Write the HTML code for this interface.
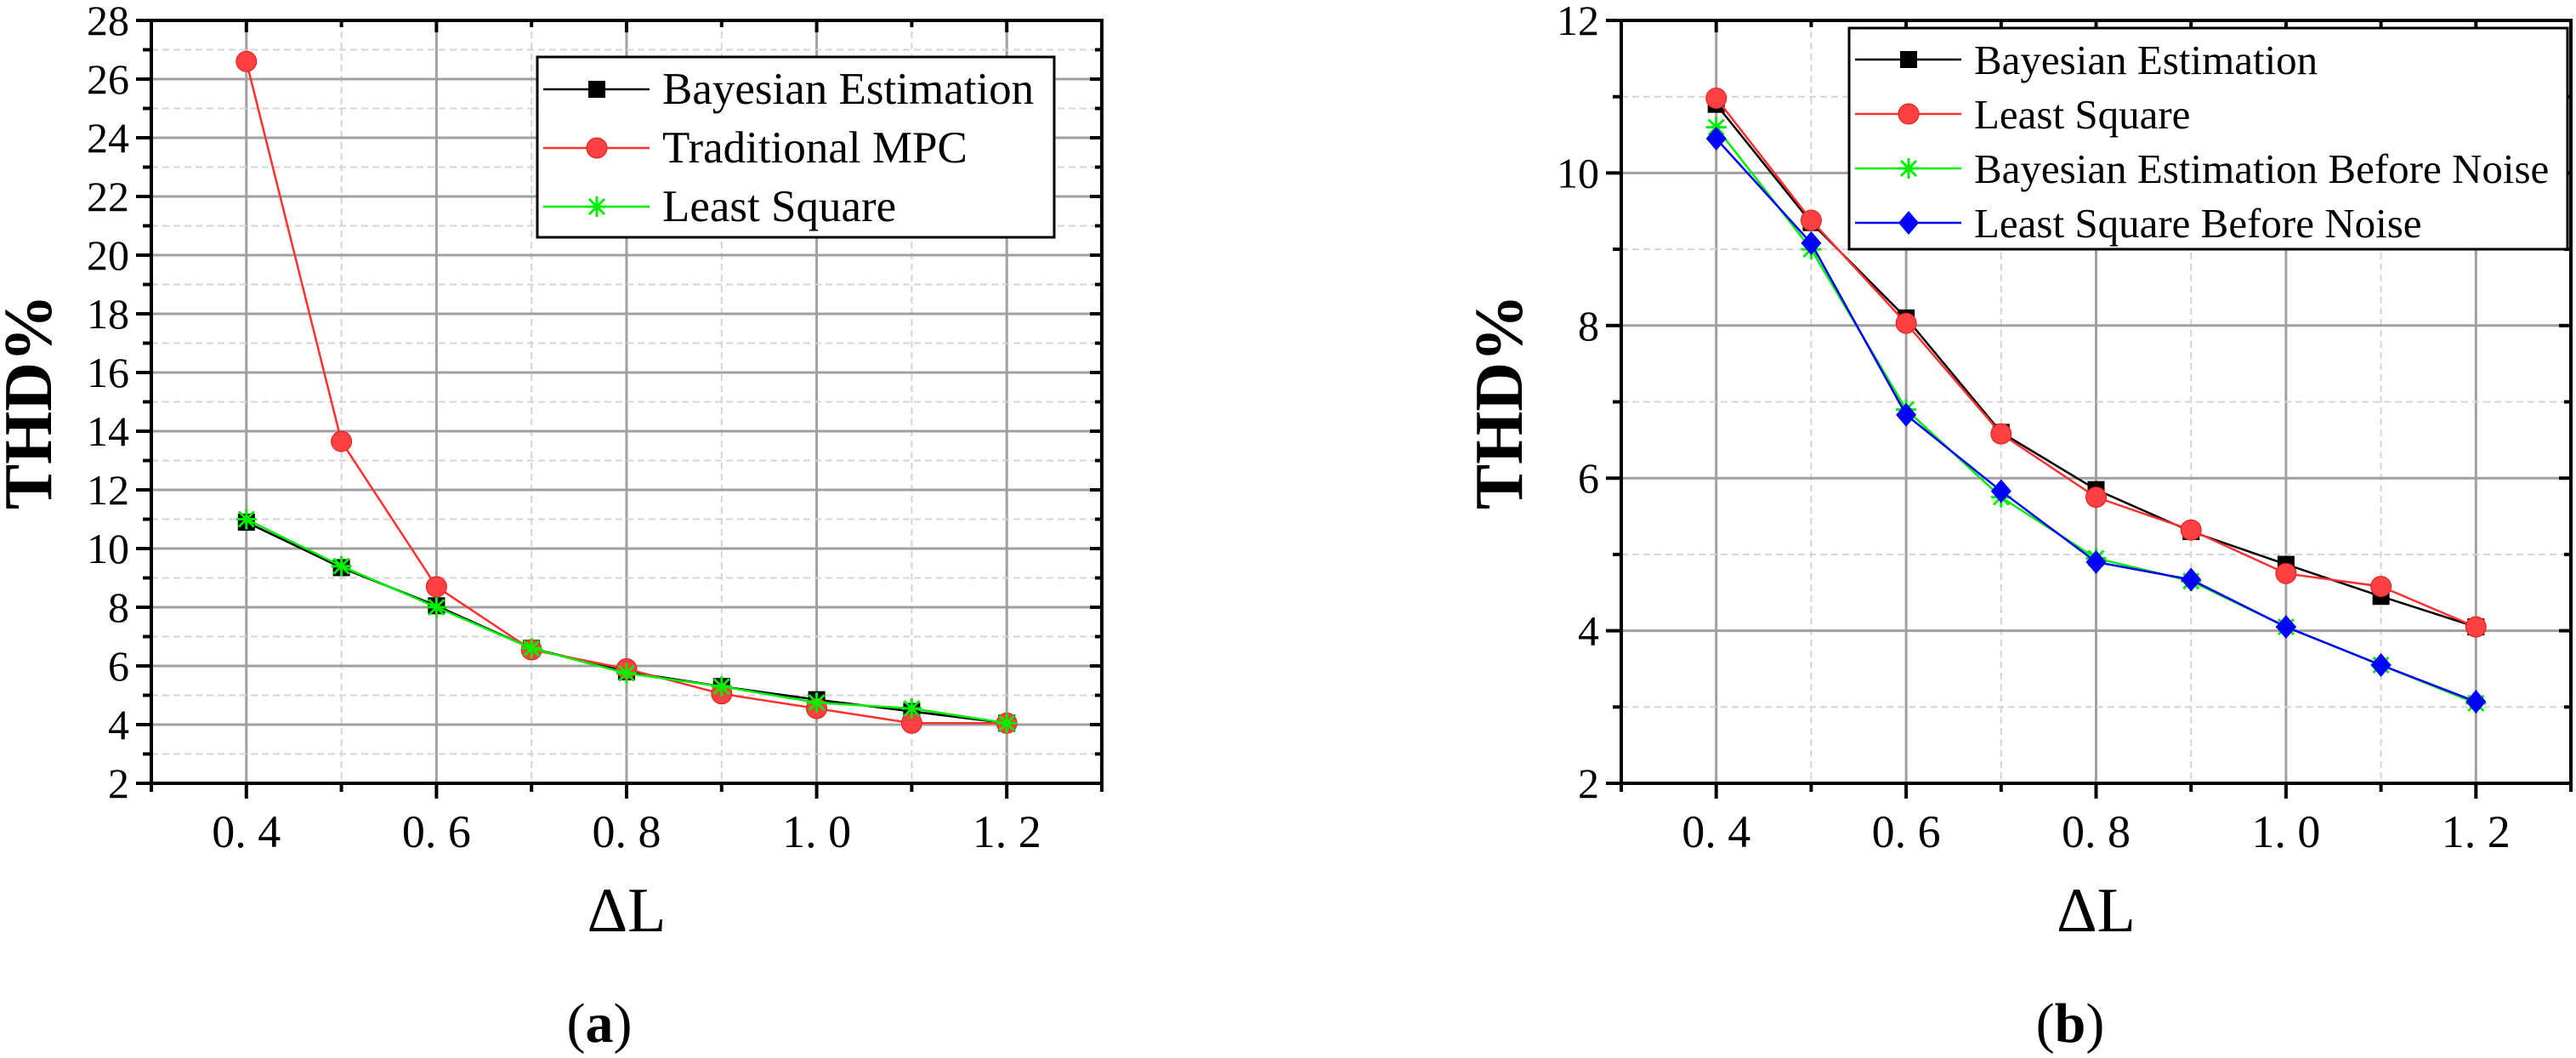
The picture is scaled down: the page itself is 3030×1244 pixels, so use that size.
<!DOCTYPE html>
<html><head><meta charset="utf-8"><style>
body{margin:0;background:#fff;}
svg{display:block;}
text,tspan{font-family:Liberation Serif,Times New Roman,Times,DejaVu Serif,serif !important;}
</style></head><body>
<svg id="fig" width="3030" height="1244" viewBox="0 0 3030 1244" xmlns="http://www.w3.org/2000/svg"></svg>
<script>
const xCats=[0.4,0.5,0.6,0.7,0.8,0.9,1.0,1.1,1.2];
const xTickLabels=["0. 4","0. 6","0. 8","1. 0","1. 2"];
const xTickVals=[0.4,0.6,0.8,1.0,1.2];
// chart a
const aBayes=[10.9,9.35,8.05,6.6,5.8,5.3,4.85,4.45,4.05];
const aMPC=[26.6,13.65,8.7,6.55,5.9,5.05,4.55,4.05,4.05];
const aLS=[11.0,9.4,8.0,6.6,5.75,5.3,4.75,4.55,4.05];
const aYTicks=[2,4,6,8,10,12,14,16,18,20,22,24,26,28];
// chart b
const bBayes=[10.9,9.35,8.1,6.6,5.85,5.3,4.87,4.45,4.05];
const bLS=[10.98,9.38,8.03,6.58,5.75,5.32,4.75,4.58,4.05];
const bBayesBN=[10.6,9.0,6.9,5.75,4.95,4.65,4.05,3.55,3.05];
const bLSBN=[10.45,9.08,6.83,5.83,4.9,4.67,4.05,3.55,3.07];
const bYTicks=[2,4,6,8,10,12];

const NS="http://www.w3.org/2000/svg";
const svg=document.getElementById('fig');
const SERIF="font-family:'Liberation Serif','Times New Roman',Times,'DejaVu Serif',serif";
function el(tag,attrs,parent,text){const e=document.createElementNS(NS,tag);for(const k in attrs)e.setAttribute(k,attrs[k]);if(tag==='text'||tag==='tspan')e.setAttribute('style',SERIF);if(text!==undefined)e.textContent=text;(parent||svg).appendChild(e);return e;}

function marker(g,type,x,y){
  let m;
  if(type==='square'){m=el('rect',{x:x-10,y:y-10,width:20,height:20,fill:'#000'},g);}
  else if(type==='circle'){m=el('circle',{cx:x,cy:y,r:12,fill:'#ff4040',stroke:'#e02020','stroke-width':1},g);}
  else if(type==='star'){m=el('path',{d:`M${x-12},${y}H${x+12}M${x},${y-12}V${y+12}M${x-9},${y-9}L${x+9},${y+9}M${x-9},${y+9}L${x+9},${y-9}`,stroke:'#00ee00','stroke-width':3,fill:'none'},g);}
  else {m=el('path',{d:`M${x},${y-14}L${x+12},${y}L${x},${y+14}L${x-12},${y}Z`,fill:'#0000ff'},g);}
  
  
}

function chart(cfg){
  const {L,R,T,B,ymin,ymax,yTicks,series,legend,label,labelX,name}=cfg;
  const g=el('g',{});
  
  
  const X=v=>L+(v-0.3)/1.0*(R-L);
  const Y=v=>B-(v-ymin)/(ymax-ymin)*(B-T);
  for(let v=0.4;v<=1.201;v+=0.1){
    const major=Math.round(v*10)%2===0;
    const gl=el('line',{x1:X(v),x2:X(v),y1:T,y2:B,stroke:major?'#a0a0a0':'#d4d4d4','stroke-width':major?3:2,'stroke-dasharray':major?'':'8,5'},g);
    
    
  }
  for(let v=ymin+1;v<ymax;v+=1){
    const major=(v%2===0);
    const gl=el('line',{x1:L,x2:R,y1:Y(v),y2:Y(v),stroke:major?'#a0a0a0':'#d4d4d4','stroke-width':major?3:2,'stroke-dasharray':major?'':'8,5'},g);
    
    
  }
  for(let i=0;i<=10;i++){const v=0.3+i*0.1;const major=i%2===1;
    el('line',{x1:X(v),x2:X(v),y1:B,y2:B+(major?18:10),stroke:'#000','stroke-width':4},g);
    el('line',{x1:X(v),x2:X(v),y1:T,y2:T+(major?14:8),stroke:'#000','stroke-width':4},g);}
  for(let v=ymin;v<=ymax;v+=1){const major=(v%2===0);
    el('line',{x1:L,x2:L-(major?18:10),y1:Y(v),y2:Y(v),stroke:'#000','stroke-width':4},g);
    el('line',{x1:R,x2:R-(major?14:8),y1:Y(v),y2:Y(v),stroke:'#000','stroke-width':4},g);}
  const frame=el('rect',{x:L,y:T,width:R-L,height:B-T,fill:'none',stroke:'#000','stroke-width':4},g);
  
  
  xTickVals.forEach((v,i)=>{const t=el('text',{x:X(v),y:B+75,'font-size':54,'text-anchor':'middle'},g,xTickLabels[i]);
    
    });
  yTicks.forEach(v=>{const t=el('text',{x:L-26,y:Y(v)+17,'font-size':50,'text-anchor':'end'},g,String(v));
    
    });
  const yt=el('text',{x:0,y:0,'font-size':80,'font-weight':'bold','text-anchor':'middle',transform:`translate(${cfg.ytX},${(T+B)/2}) rotate(-90)`},g,'THD%');
  
  
  const xt=el('text',{x:(L+R)/2,y:1095,'font-size':74,'text-anchor':'middle'},g,'ΔL');
  
  
  const pl=el('text',{x:labelX,y:1225,'font-size':66,'text-anchor':'middle'},g);
  
  
  el('tspan',{},pl,'(');el('tspan',{'font-weight':'bold'},pl,label);el('tspan',{},pl,')');
  series.forEach(s=>{
    const sg=el('g',{},g);
    
    
    const pts=s.data.map((v,i)=>X(xCats[i])+','+Y(v)).join(' ');
    el('polyline',{points:pts,fill:'none',stroke:s.color,'stroke-width':2.5},sg);
    s.data.forEach((v,i)=>marker(sg,s.marker,X(xCats[i]),Y(v)));
  });
  const lg=el('g',{},g);
  
  
  el('rect',{x:legend.x,y:legend.y,width:legend.w,height:legend.h,fill:'#fff',stroke:'#000','stroke-width':3},lg);
  series.forEach((s,i)=>{
    const ry=legend.r0+i*legend.dr;
    const eg=el('g',{},lg);
    
    
    el('line',{x1:legend.x+7,x2:legend.x+132,y1:ry,y2:ry,stroke:s.color,'stroke-width':2.5},eg);
    marker(eg,s.marker,legend.x+70,ry);
    el('text',{x:legend.x+147,y:ry+17,'font-size':legend.fs},eg,s.label);
  });
}

chart({name:'chart-a',L:178,R:1296,T:24,B:921,ymin:2,ymax:28,yTicks:aYTicks,ytX:60,labelX:705,label:'a',
  series:[{name:'series-bayesian',label:'Bayesian Estimation',data:aBayes,color:'#000',marker:'square'},
          {name:'series-traditional-mpc',label:'Traditional MPC',data:aMPC,color:'#ff3030',marker:'circle'},
          {name:'series-least-square',label:'Least Square',data:aLS,color:'#00ee00',marker:'star'}],
  legend:{x:632,y:67,w:608,h:212,r0:105,dr:69,fs:53}});
chart({name:'chart-b',L:1907,R:3024,T:24,B:921,ymin:2,ymax:12,yTicks:bYTicks,ytX:1790,labelX:2435,label:'b',
  series:[{name:'series-bayesian',label:'Bayesian Estimation',data:bBayes,color:'#000',marker:'square'},
          {name:'series-least-square',label:'Least Square',data:bLS,color:'#ff3030',marker:'circle'},
          {name:'series-bayesian-before-noise',label:'Bayesian Estimation Before Noise',data:bBayesBN,color:'#00ee00',marker:'star'},
          {name:'series-least-square-before-noise',label:'Least Square Before Noise',data:bLSBN,color:'#0000ff',marker:'diamond'}],
  legend:{x:2175,y:33,w:845,h:260,r0:70,dr:64,fs:49}});
</script>
</body></html>
